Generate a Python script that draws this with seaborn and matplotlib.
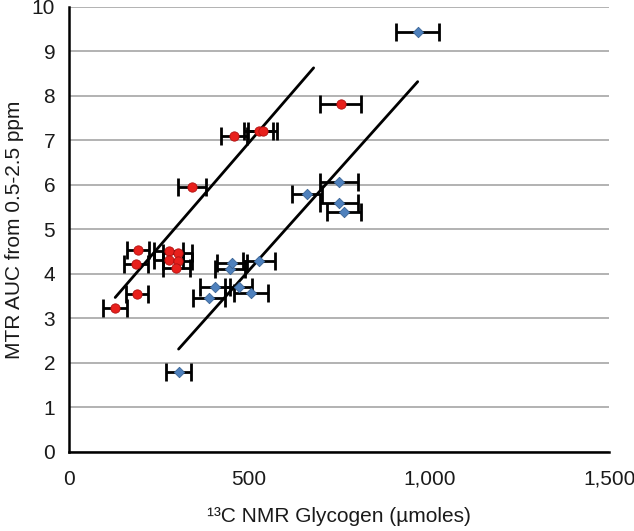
import pandas as pd
import numpy as np
import matplotlib
matplotlib.use('Agg')
import matplotlib.pyplot as plt
import seaborn as sns

# Red series (glycogen, MTR AUC, x error)
red_x = [128, 188, 186, 191, 277, 302, 277, 302, 298, 341, 458, 527, 538, 754]
red_y = [3.24, 3.55, 4.22, 4.54, 4.52, 4.47, 4.31, 4.28, 4.13, 5.95, 7.11, 7.20, 7.20, 7.82]
red_err = [34, 30, 33, 30, 40, 40, 40, 40, 38, 39, 37, 40, 40, 56]

# Blue series
blue_x = [304, 389, 406, 471, 505, 446, 452, 527, 661, 749, 749, 763, 968]
blue_y = [1.79, 3.45, 3.71, 3.71, 3.57, 4.11, 4.24, 4.28, 5.80, 6.06, 5.59, 5.40, 9.44]
blue_err = [34, 44, 42, 38, 48, 42, 42, 44, 42, 52, 53, 47, 60]

# Trend line endpoints
red_fit_x = [128, 679]
red_fit_y = [3.47, 8.63]
blue_fit_x = [304, 968]
blue_fit_y = [2.31, 8.32]

x_ticks = [0, 500, 1000, 1500]
x_tick_labels = ['0', '500', '1,000', '1,500']

sns.set_style('white')
plt.rcParams['font.family'] = ['Liberation Sans', 'DejaVu Sans']

red = pd.DataFrame({'x': red_x, 'y': red_y, 'err': red_err, 'group': 'red'})
blue = pd.DataFrame({'x': blue_x, 'y': blue_y, 'err': blue_err, 'group': 'blue'})
fits = pd.DataFrame({'x': red_fit_x + blue_fit_x, 'y': red_fit_y + blue_fit_y,
                     'group': ['red'] * 2 + ['blue'] * 2})

fig = plt.figure(figsize=(6.34, 5.31), dpi=100)
ax = fig.add_axes([0.109, 0.149, 0.852, 0.838])

ax.yaxis.grid(True, color='#a6a6a6', linewidth=1.2)
ax.set_axisbelow(True)

sns.lineplot(data=fits, x='x', y='y', units='group', estimator=None, color='black',
             linewidth=2.0, ax=ax, zorder=2)

for df in [red, blue]:
    ax.errorbar(df['x'], df['y'], xerr=df['err'], fmt='none', ecolor='black',
                elinewidth=2.0, capsize=6.5, capthick=2.0, zorder=3)

sns.scatterplot(data=red, x='x', y='y', color='#e8201c', marker='o', s=45,
                edgecolor='#b01010', linewidth=0.6, ax=ax, zorder=4)
sns.scatterplot(data=blue, x='x', y='y', color='#4f81bd', marker='D', s=28,
                edgecolor='#3a6496', linewidth=0.6, ax=ax, zorder=4)

ax.set_xlim(0, 1500)
ax.set_ylim(0, 10)
ax.set_xticks(x_ticks)
ax.set_xticklabels(x_tick_labels)
ax.set_yticks(range(0, 11))
ax.tick_params(axis='both', direction='out', length=5, width=1.5, color='black',
               labelsize=15, colors='#1a1a1a')
ax.tick_params(axis='x', pad=8)
ax.tick_params(axis='y', pad=5)

for side in ['top', 'right']:
    ax.spines[side].set_visible(False)
for side in ['left', 'bottom']:
    ax.spines[side].set_color('black')
    ax.spines[side].set_linewidth(1.8)

ax.set_xlabel('¹³C NMR Glycogen (µmoles)', fontsize=15, color='#1a1a1a', labelpad=13)
ax.set_ylabel('MTR AUC from 0.5-2.5 ppm', fontsize=15, color='#1a1a1a', labelpad=6)

fig.savefig('out.png', dpi=100)
